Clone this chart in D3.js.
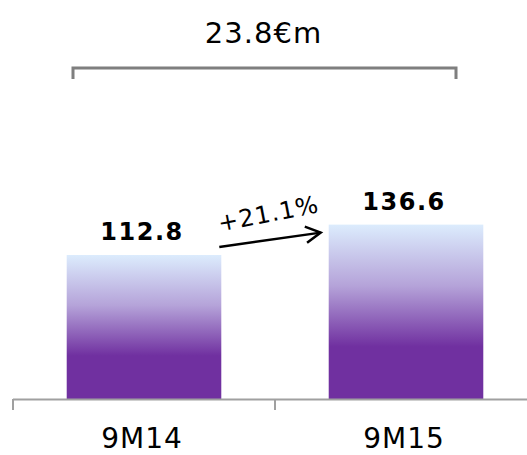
<!DOCTYPE html>
<html>
<head>
<meta charset="utf-8">
<script src="https://cdn.jsdelivr.net/npm/d3@7"></script>
<style>
  body { margin: 0; background: #fff; }
  text { font-family: "DejaVu Sans", Verdana, sans-serif; }
</style>
</head>
<body>
<div class="svg"></div>
<script>
var categories = ["9M14", "9M15"];
var values = [112.8, 136.6];
var valueLabels = ["112.8", "136.6"];
var growthLabel = "+21.1%";
var totalLabel = "23.8€m";

var w = 527, h = 455;
var baseY = 399;

var svg = d3.select('div.svg')
  .append('svg')
  .attr('width', w)
  .attr('height', h);

var x = d3.scaleBand()
  .domain(categories)
  .range([13, 537])
  .paddingInner(0.41)
  .paddingOuter(0.205);

var y = d3.scaleLinear()
  .domain([0, 250])
  .range([baseY, baseY - 250 * 1.2766]);

// bar gradient
var grad = svg.append('defs').append('linearGradient')
  .attr('id', 'barGrad')
  .attr('x1', 0).attr('y1', 0).attr('x2', 0).attr('y2', 1);
grad.append('stop').attr('offset', '0%').attr('stop-color', '#dcecfd');
grad.append('stop').attr('offset', '35%').attr('stop-color', '#b5a3d9');
grad.append('stop').attr('offset', '70%').attr('stop-color', '#7030a0');
grad.append('stop').attr('offset', '100%').attr('stop-color', '#7030a0');

svg.selectAll('rect.bar')
  .data(values)
  .enter()
  .append('rect')
  .attr('class', 'bar')
  .attr('x', function(d, i){ return x(categories[i]); })
  .attr('y', function(d){ return y(d); })
  .attr('width', x.bandwidth())
  .attr('height', function(d){ return y(0) - y(d); })
  .attr('fill', 'url(#barGrad)');

// axis line and boundary ticks
var step = x.step();
var axisStart = x.range()[0];
svg.append('line')
  .attr('x1', axisStart).attr('x2', w)
  .attr('y1', baseY + 0.5).attr('y2', baseY + 0.5)
  .attr('stroke', '#a0a0a0').attr('stroke-width', 2);
svg.selectAll('line.tick')
  .data(d3.range(categories.length + 1))
  .enter()
  .append('line')
  .attr('class', 'tick')
  .attr('x1', function(i){ return axisStart + i * step; })
  .attr('x2', function(i){ return axisStart + i * step; })
  .attr('y1', baseY).attr('y2', baseY + 11)
  .attr('stroke', '#a0a0a0').attr('stroke-width', 2);

// category labels
svg.selectAll('text.cat')
  .data(categories)
  .enter()
  .append('text')
  .attr('class', 'cat')
  .text(function(d){ return d; })
  .attr('x', function(d){ return x(d) + x.bandwidth() / 2 - 2; })
  .attr('y', 448)
  .attr('font-size', '28px')
  .attr('letter-spacing', '1px')
  .attr('fill', '#000')
  .attr('text-anchor', 'middle');

// value labels
svg.selectAll('text.val')
  .data(values)
  .enter()
  .append('text')
  .attr('class', 'val')
  .text(function(d, i){ return valueLabels[i]; })
  .attr('x', function(d, i){ return x(categories[i]) + x.bandwidth() / 2 - 2; })
  .attr('y', function(d){ return y(d) - 15; })
  .attr('font-size', '24px')
  .attr('font-weight', 'bold')
  .attr('letter-spacing', '1.5px')
  .attr('fill', '#000')
  .attr('text-anchor', 'middle');

// growth arrow
var ax1 = x(categories[0]) + x.bandwidth() - 2;
var ax2 = x(categories[1]) - 8;
var ay1 = y(values[0]) - 8;
var ay2 = y(values[1]) + 8;
svg.append('line')
  .attr('x1', ax1).attr('y1', ay1)
  .attr('x2', ax2).attr('y2', ay2)
  .attr('stroke', '#000').attr('stroke-width', 2.5);
var ang = Math.atan2(ay2 - ay1, ax2 - ax1);
var hl = 17, spread = 0.5;
svg.append('path')
  .attr('d', 'M' + (ax2 - hl * Math.cos(ang - spread)) + ',' + (ay2 - hl * Math.sin(ang - spread)) +
    'L' + ax2 + ',' + ay2 +
    'L' + (ax2 - hl * Math.cos(ang + spread)) + ',' + (ay2 - hl * Math.sin(ang + spread)))
  .attr('fill', 'none').attr('stroke', '#000').attr('stroke-width', 2.5);
var tx = (ax1 + ax2) / 2, ty = (ay1 + ay2) / 2 - 18;
svg.append('text')
  .text(growthLabel)
  .attr('transform', 'translate(' + tx + ',' + ty + ') rotate(-11)')
  .attr('font-size', '24px')
  .attr('letter-spacing', '1px')
  .attr('fill', '#000')
  .attr('text-anchor', 'middle');

// total bracket
var bx1 = 73, bx2 = 456, by = 68;
svg.append('path')
  .attr('d', 'M' + bx1 + ',' + (by + 11) + 'V' + by + 'H' + bx2 + 'V' + (by + 11))
  .attr('fill', 'none').attr('stroke', '#7f7f7f').attr('stroke-width', 3);
svg.append('text')
  .text(totalLabel)
  .attr('x', (bx1 + bx2) / 2 - 1)
  .attr('y', 43)
  .attr('font-size', '29px')
  .attr('letter-spacing', '1px')
  .attr('fill', '#000')
  .attr('text-anchor', 'middle');
</script>
</body>
</html>
